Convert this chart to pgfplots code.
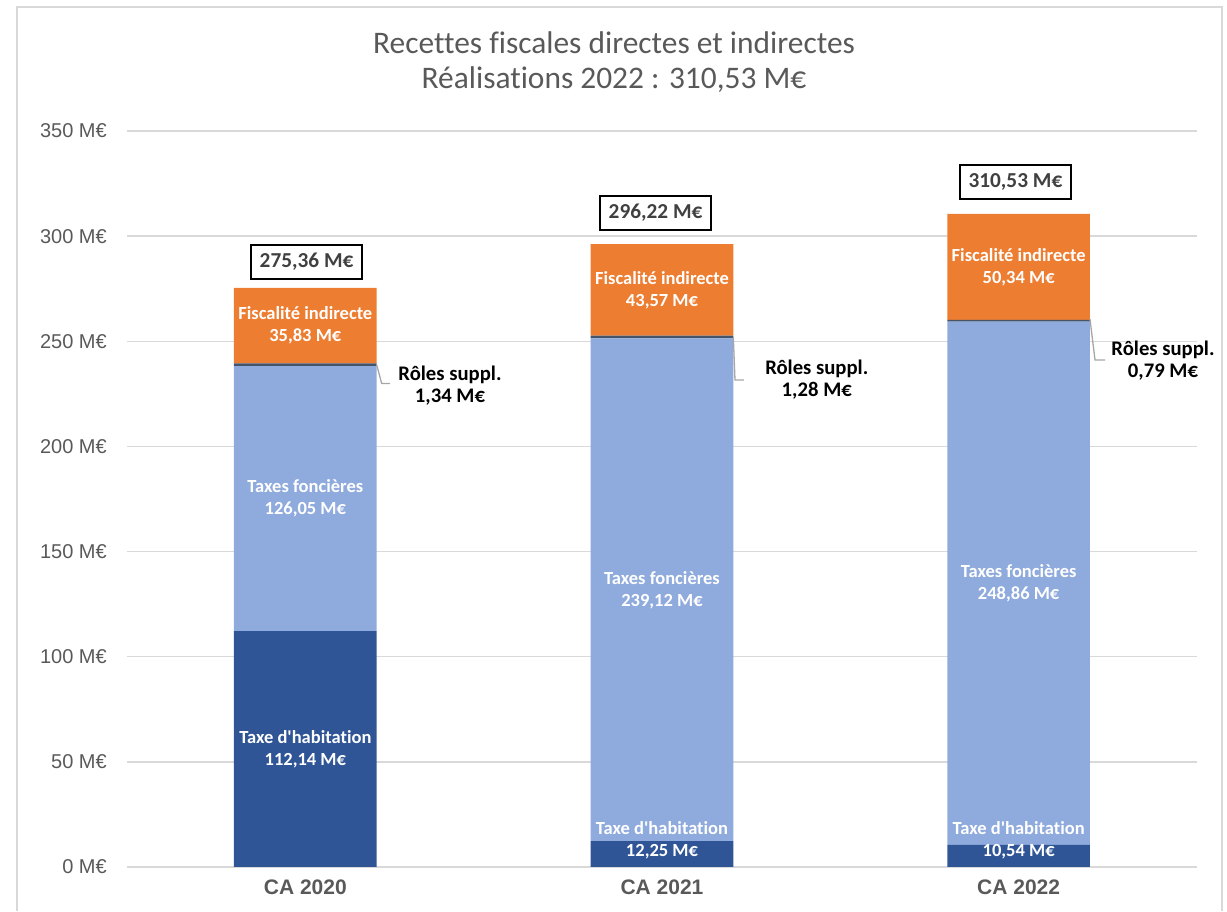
\documentclass[border=0pt]{standalone}
\usepackage{fontspec}
\setmainfont{Carlito}[Ligatures={CommonOff,TeXOff}]
\newfontfamily\arialfont{Liberation Sans}
\usepackage{pgfplots}
\pgfplotsset{compat=1.18}
\definecolor{thcol}{HTML}{2F5597}
\definecolor{tfcol}{HTML}{8FAADC}
\definecolor{rscol}{HTML}{44546A}
\definecolor{ficol}{HTML}{ED7D31}
\definecolor{txtgray}{HTML}{595959}
\definecolor{gridgray}{HTML}{D9D9D9}
\definecolor{boxtxt}{HTML}{404040}
\definecolor{leadgray}{HTML}{A6A6A6}
\tikzset{
  inlab/.style={text=white, align=center, inner sep=0pt, font=\bfseries\fontsize{18.5}{22}\selectfont},
  rlab/.style={text=black, align=center, inner sep=0pt, font=\bfseries\fontsize{20.7}{22}\selectfont},
  totbox/.style={draw=black, line width=2pt, fill=white, text=boxtxt, inner sep=0pt, minimum width=111pt, minimum height=34pt, font=\bfseries\fontsize{21.3}{24}\selectfont},
  lead/.style={draw=leadgray, line width=1.3pt},
}
\begin{document}
\begin{tikzpicture}[x=1pt,y=1pt]
\useasboundingbox (0,0) rectangle (1227,911);
\draw[gridgray, line width=2.5pt] (17,0) -- (17,904) -- (1222,904) -- (1222,0);
\node[text=txtgray, align=center, font=\fontsize{31.4}{35}\selectfont] at (614,848.5) {Recettes fiscales directes et indirectes\\Réalisations 2022 : 310,53 M€};
\begin{axis}[
  at={(127pt,44pt)}, anchor=south west, scale only axis, width=1070pt, height=736pt,
  xmin=-0.5, xmax=2.5, ymin=0, ymax=350,
  ybar stacked, bar width=0.4,
  axis line style={draw=none},
  ytick={0,50,100,150,200,250,300,350},
  yticklabels={0 M€,50 M€,100 M€,150 M€,200 M€,250 M€,300 M€,350 M€},
  xtick={0,1,2}, xticklabels={CA 2020,CA 2021,CA 2022},
  major tick length=0pt,
  ymajorgrids, grid style={gridgray, line width=1.5pt},
  yticklabel style={font=\arialfont\fontsize{20}{24}\selectfont, text=txtgray, anchor=east, inner sep=0pt, xshift=-20pt},
  xticklabel style={font=\arialfont\bfseries\fontsize{21}{25}\selectfont, text=txtgray, anchor=north, inner sep=0pt, yshift=-13pt},
  clip=false,
]
\addplot[fill=thcol, draw=none] coordinates {(0,112.14) (1,12.25) (2,10.54)};
\addplot[fill=tfcol, draw=none] coordinates {(0,126.05) (1,239.12) (2,248.86)};
\addplot[fill=rscol, draw=none] coordinates {(0,1.34) (1,1.28) (2,0.79)};
\addplot[fill=ficol, draw=none] coordinates {(0,35.83) (1,43.57) (2,50.34)};

\coordinate (th0) at (axis cs:0,56.07);
\coordinate (tf0) at (axis cs:0,175.2);
\coordinate (fi0) at (axis cs:0,257.4);
\coordinate (th1) at (axis cs:1,12.84);
\coordinate (tf1) at (axis cs:1,131.8);
\coordinate (fi1) at (axis cs:1,274.4);
\coordinate (th2) at (axis cs:2,12.84);
\coordinate (tf2) at (axis cs:2,134.97);
\coordinate (fi2) at (axis cs:2,285.4);

\coordinate (l0a) at (axis cs:0.2,238.86);
\coordinate (l0b) at (axis cs:0.2141,229.9);
\coordinate (l0c) at (axis cs:0.2374,229.9);
\coordinate (l1a) at (axis cs:1.2,252.0);
\coordinate (l1b) at (axis cs:1.2047,231.6);
\coordinate (l1c) at (axis cs:1.2299,231.6);
\coordinate (l2a) at (axis cs:2.2,260.58);
\coordinate (l2b) at (axis cs:2.2141,241.1);
\coordinate (l2c) at (axis cs:2.2422,241.1);
\coordinate (r0) at (axis cs:0.4056,229.0);
\coordinate (r1) at (axis cs:1.434,231.6);
\coordinate (r2) at (axis cs:2.4047,240.6);

\coordinate (t0) at (axis cs:0.0035,287.7);
\coordinate (t1) at (axis cs:0.982,311.2);
\coordinate (t2) at (axis cs:1.991,325.7);
\end{axis}
\node[inlab] at (th0) {Taxe d'habitation\\112,14 M€};
\node[inlab] at (tf0) {Taxes foncières\\126,05 M€};
\node[inlab] at (fi0) {Fiscalité indirecte\\35,83 M€};
\node[inlab] at (th1) {Taxe d'habitation\\12,25 M€};
\node[inlab] at (tf1) {Taxes foncières\\239,12 M€};
\node[inlab] at (fi1) {Fiscalité indirecte\\43,57 M€};
\node[inlab] at (th2) {Taxe d'habitation\\10,54 M€};
\node[inlab] at (tf2) {Taxes foncières\\248,86 M€};
\node[inlab] at (fi2) {Fiscalité indirecte\\50,34 M€};

\draw[lead] (l0a) -- (l0b) -- (l0c);
\draw[lead] (l1a) -- (l1b) -- (l1c);
\draw[lead] (l2a) -- (l2b) -- (l2c);
\node[rlab] at (r0) {Rôles suppl.\\1,34 M€};
\node[rlab] at (r1) {Rôles suppl.\\1,28 M€};
\node[rlab] at (r2) {Rôles suppl.\\0,79 M€};

\node[totbox] at (t0) {275,36 M€};
\node[totbox] at (t1) {296,22 M€};
\node[totbox] at (t2) {310,53 M€};
\end{tikzpicture}
\end{document}
